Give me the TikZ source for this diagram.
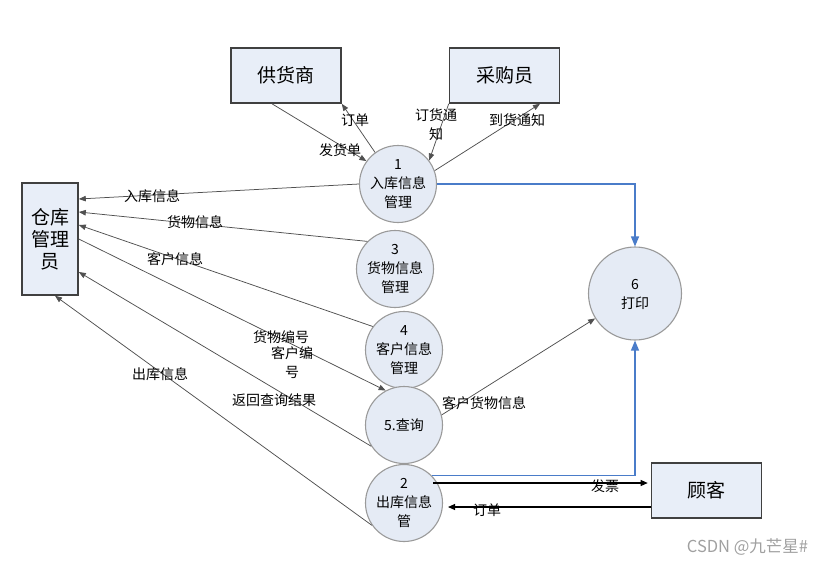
\documentclass[tikz,border=0pt]{standalone}
\usepackage{fontspec}
\setmainfont{Noto Sans CJK SC}
\usetikzlibrary{arrows.meta,calc}
\definecolor{boxfill}{HTML}{E8EEF8}
\definecolor{procfill}{HTML}{E5EBF5}
\definecolor{boxline}{HTML}{404040}
\definecolor{procline}{HTML}{9A9A9A}
\definecolor{linegray}{HTML}{505050}
\definecolor{flowblue}{HTML}{4A7CC9}
\definecolor{wm}{HTML}{A0A0A0}
\begin{document}
\begin{tikzpicture}[x=1pt,y=-1pt,
  box/.style={draw=boxline, line width=1.6pt, fill=boxfill, minimum width=110pt, minimum height=55pt, inner sep=0pt, font=\fontsize{19}{22}\selectfont, align=center},
  proc/.style={circle, draw=procline, line width=1.1pt, fill=procfill, minimum size=77pt, inner sep=0pt, align=center, font=\fontsize{14}{19}\selectfont},
  flow/.style={draw=linegray, line width=0.75pt, -{Triangle[length=7pt,width=5.5pt]}},
  flowk/.style={draw=black, line width=1.1pt, -{Triangle[length=7pt,width=6pt]}},
  blueflow/.style={draw=flowblue, line width=1.3pt, -{Triangle[length=10pt,width=8pt]}},
  lab/.style={font=\fontsize{14}{19}\selectfont, inner sep=0pt, align=center}]
\useasboundingbox (0,0) rectangle (835,566);
% boxes
\node[box] (sup) at (286,75.5) {供货商};
\node[box] (pur) at (504.5,75.5) {采购员};
\node[box, minimum width=56pt, minimum height=112pt] (wh) at (50,239) {仓库\\管理\\员};
\node[box] (cus) at (706.5,490.5) {顾客};
% processes
\node[proc] (c1) at (398,184) {1\\入库信息\\管理};
\node[proc] (c3) at (395,269) {3\\货物信息\\管理};
\node[proc] (c4) at (404,350) {4\\客户信息\\管理};
\node[proc] (c5) at (404,425) {5.查询};
\node[proc] (c2) at (404,503) {2\\出库信息\\管};
\node[proc, minimum size=93pt, text depth=-8pt] (c6) at (635,293.5) {6\\打印};
% connectors
\draw[flow] ([xshift=-14pt]sup.south) -- (c1.144);
\draw[flow] (c1.126) -- (sup.south east);
\draw[flow] (pur.south west) -- (c1.37);
\draw[flow] (c1.20) -- ([xshift=35.5pt]pur.south);
\draw[flow] (c1.180) -- ([yshift=40pt]wh.east);
\draw[flow] (c3.135) -- ([yshift=27pt]wh.east);
\draw[flow] (c4.143) -- ([yshift=14pt]wh.east);
\draw[flow] (wh.east) -- (c5.118);
\draw[flow] (c5.213) -- ([yshift=-33pt]wh.east);
\draw[flow] (c2.215) -- ([xshift=5pt]wh.south);
\draw[flow] (c5.15) -- (c6.212);
\coordinate (fp) at ([yshift=7.5pt]cus.west);
\coordinate (dp) at ([yshift=-16.5pt]cus.west);
\draw[flowk] ($(fp -| c2.east)+(-10pt,0)$) -- ($(fp)+(-3pt,0)$);
\draw[flowk] (dp) -- ($(dp -| c2.east)+(5pt,0)$);
\draw[blueflow] (c1.east) -| (c6.north);
\draw[blueflow] (c2.45) -| (c6.south);
% labels
\node[lab] (l1) at (340,150) {发货单};
\node[lab] (l2) at (355,120) {订单};
\node[lab] (l3) at (436,125) {订货通\\知};
\node[lab] (l4) at (517,120) {到货通知};
\node[lab] (l5) at (152,196) {入库信息};
\node[lab] (l6) at (195,222) {货物信息};
\node[lab] (l7) at (175,259) {客户信息};
\node[lab] (l8) at (281,337) {货物编号};
\node[lab] (l9) at (292,363) {客户编\\号};
\node[lab] (l10) at (160,374) {出库信息};
\node[lab] (l11) at (274,400) {返回查询结果};
\node[lab] (l12) at (484,403) {客户货物信息};
\node[lab] (l13) at (605,486) {发票};
\node[lab] (l14) at (487,510) {订单};
\node[font=\fontsize{16.5}{18}\selectfont, text=wm, inner sep=0pt] (wmk) at (747.5,547) {CSDN @九芒星\#};
\end{tikzpicture}
\end{document}
